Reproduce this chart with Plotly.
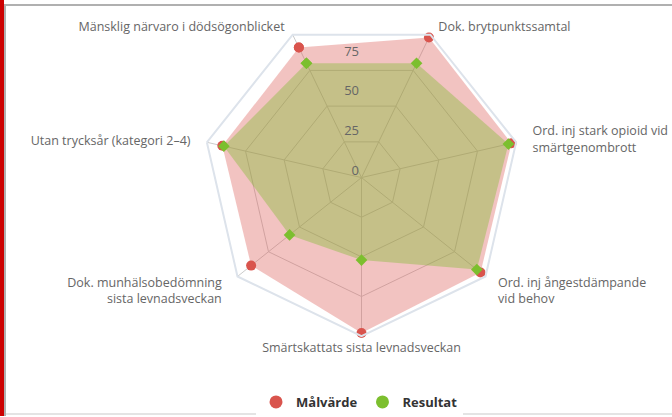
import plotly.graph_objects as go

# categories in clockwise order, starting at the upper-left axis
categories = [
    "Mänsklig närvaro i dödsögonblicket",
    "Dok. brytpunktssamtal",
    "Ord. inj stark opioid vid<br>smärtgenombrott",
    "Ord. inj ångestdämpande<br>vid behov",
    "Smärtskattats sista levnadsveckan",
    "Dok. munhälsobedömning<br>sista levnadsveckan",
    "Utan trycksår (kategori 2–4)",
]
malvarde = [91, 98, 97, 96, 98, 89, 90]
resultat = [80, 80, 95, 93, 52, 58, 89]
radial_ticks = [0, 25, 50, 75]

W, H = 672, 417
RED = "#d9544d"
GREEN = "#7cbf2e"
FONT = "Open Sans, DejaVu Sans, sans-serif"


def px_x(v):
    return v / W


def px_y(v):
    return 1 - v / H


# push the category labels a bit further out from the web (nbsp padding)
NB = "\u00a0"
pads = [(0, 2), (2, 0), (4, 0), (3, 0), (0, 0), (0, 4), (0, 4)]  # (before, after)
ticktext = []
for lab, (pre, post) in zip(categories, pads):
    lines = lab.split("<br>")
    ticktext.append("<br>".join(NB * pre + ln + NB * post for ln in lines))

fig = go.Figure()

# closing the polygons
theta_c = categories + categories[:1]

fig.add_trace(go.Scatterpolar(
    r=malvarde + malvarde[:1], theta=theta_c,
    fill="toself", fillcolor="rgba(217,84,77,0.35)",
    line=dict(color="rgba(0,0,0,0)", width=0),
    mode="lines+markers",
    marker=dict(color=RED, size=10, symbol="circle"),
    name="Målvärde", showlegend=False, hoverinfo="r+theta"))

fig.add_trace(go.Scatterpolar(
    r=resultat + resultat[:1], theta=theta_c,
    fill="toself", fillcolor="rgba(124,187,44,0.38)",
    line=dict(color="rgba(0,0,0,0)", width=0),
    mode="lines+markers",
    marker=dict(color=GREEN, size=9, symbol="diamond"),
    name="Resultat", showlegend=False, hoverinfo="r+theta"))

# legend entries (round markers only)
for name, col in [("Målvärde", RED), ("Resultat", GREEN)]:
    fig.add_trace(go.Scatterpolar(
        r=[None], theta=[categories[0]], mode="markers",
        marker=dict(color=col, size=13), name=name, showlegend=True))

# invisible trace so the second (round) polar, which only carries the vertical value labels, is drawn
fig.add_trace(go.Scatterpolar(
    r=[0], theta=[0], mode="markers", marker=dict(opacity=0),
    subplot="polar2", showlegend=False, hoverinfo="skip"))

cx, cy, R = 361.5, 178, 159
dom = dict(x=[px_x(cx - R), px_x(cx + R)], y=[px_y(cy + R), px_y(cy - R)])

fig.update_layout(
    width=W, height=H,
    margin=dict(l=0, r=0, t=0, b=0),
    paper_bgcolor="white",
    font=dict(family=FONT, size=12.5, color="#666666"),
    polar=dict(
        domain=dom,
        bgcolor="rgba(0,0,0,0)",
        gridshape="linear",
        angularaxis=dict(
            rotation=90 + 180 / 7, direction="clockwise",
            showline=True, linecolor="#dde3eb", linewidth=2,
            gridcolor="#cccccc", gridwidth=1,
            tickvals=categories, ticktext=ticktext,
            ticks="", tickfont=dict(size=12.5, color="#666666"),
        ),
        radialaxis=dict(
            range=[0, 100], tickvals=radial_ticks, ticks="",
            showline=False, showticklabels=False,
            gridcolor="#cccccc", gridwidth=1,
        ),
    ),
    polar2=dict(
        domain=dom,
        bgcolor="rgba(0,0,0,0)",
        angularaxis=dict(visible=False),
        radialaxis=dict(
            range=[0, 100], angle=90, side="counterclockwise", tickangle=90,
            # labels sit a little above their ring, as in the original
            tickvals=[v + 4.5 for v in radial_ticks], ticktext=[str(v) for v in radial_ticks],
            ticks="", showline=False, showgrid=False,
            tickfont=dict(size=13, color="#666666"),
        ),
    ),
    legend=dict(
        orientation="h", x=0.535, xanchor="center", y=px_y(403), yanchor="middle",
        font=dict(size=13, color="#333333", family=FONT, weight="bold"),
        itemclick=False,
    ),
    shapes=[
        dict(type="rect", xref="paper", yref="paper", x0=0, x1=px_x(4), y0=0, y1=1,
             fillcolor="#cc0000", line=dict(width=0), layer="above"),
        dict(type="line", xref="paper", yref="paper", x0=px_x(5), x1=px_x(5), y0=0, y1=px_y(4),
             line=dict(color="#b0b0b0", width=2)),
        dict(type="line", xref="paper", yref="paper", x0=px_x(4), x1=1, y0=px_y(5), y1=px_y(5),
             line=dict(color="#b0b0b0", width=2)),
        dict(type="line", xref="paper", yref="paper", x0=px_x(6), x1=1, y0=px_y(415), y1=px_y(415),
             line=dict(color="#e4e4e4", width=2)),
    ],
)

fig.write_html("out.html", config={"displayModeBar": False},
               post_script="document.body.style.margin='0';document.body.style.overflow='hidden';")
